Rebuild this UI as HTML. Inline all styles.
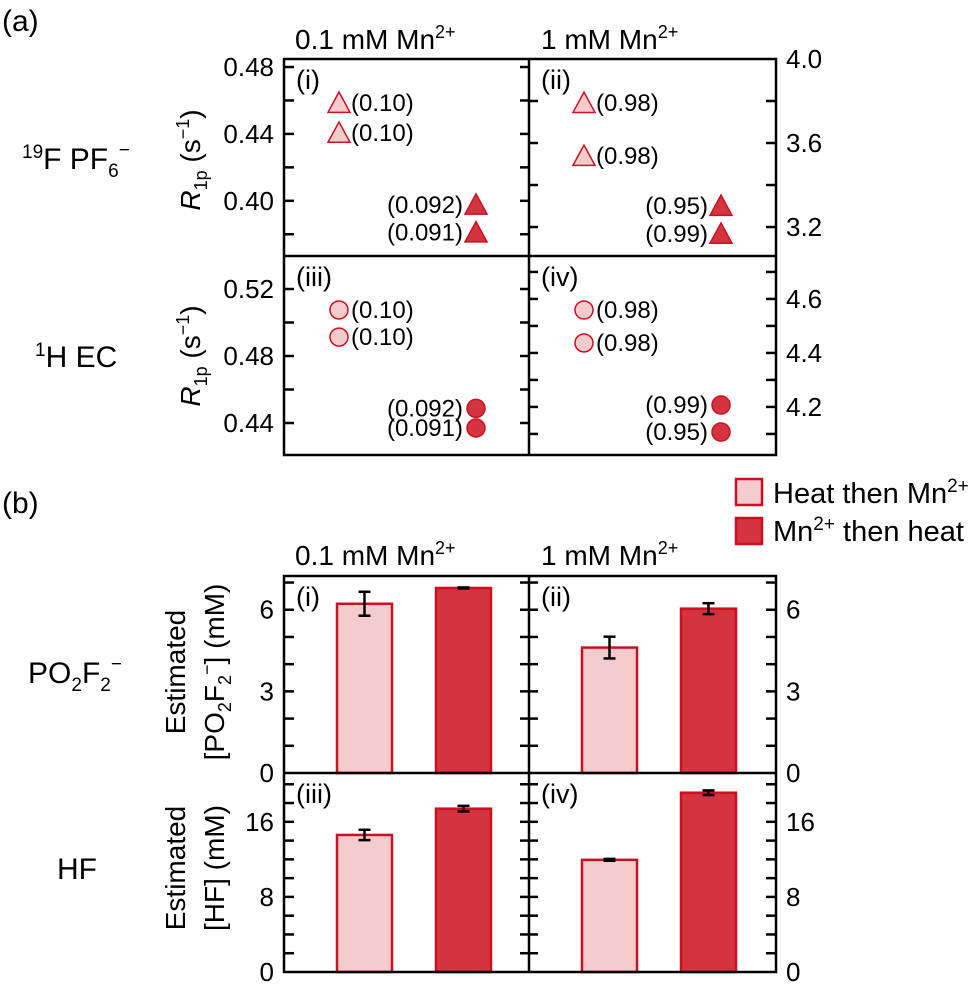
<!DOCTYPE html>
<html><head><meta charset="utf-8"><style>
body{margin:0;background:#fff;}
svg{display:block;font-family:"Liberation Sans",Arial,sans-serif;}
</style></head><body>
<svg id="fig" width="980" height="986" viewBox="0 0 980 986" xmlns="http://www.w3.org/2000/svg">
<g font-size="28" fill="#000">
<text x="2" y="31" font-size="30">(a)</text>
<text x="2" y="513" font-size="30">(b)</text>
<text x="295" y="49">0.1 mM Mn<tspan dy="-11" font-size="18">2+</tspan></text>
<text x="541" y="49">1 mM Mn<tspan dy="-11" font-size="18">2+</tspan></text>
<text x="295" y="565">0.1 mM Mn<tspan dy="-11" font-size="18">2+</tspan></text>
<text x="541" y="565">1 mM Mn<tspan dy="-11" font-size="18">2+</tspan></text>
<g font-size="30">
<text x="22" y="169"><tspan font-size="19" dy="-11">19</tspan><tspan dy="11">F PF</tspan><tspan font-size="19" dy="8">6</tspan><tspan font-size="19" dy="-21">−</tspan></text>
<text x="35" y="367"><tspan font-size="19" dy="-11">1</tspan><tspan dy="11">H EC</tspan></text>
<text x="28" y="683">PO<tspan font-size="19" dy="8">2</tspan><tspan dy="-8">F</tspan><tspan font-size="19" dy="8">2</tspan><tspan font-size="19" dy="-21">−</tspan></text>
<text x="57" y="879">HF</text>
</g>
<text transform="translate(200,160) rotate(-90)" text-anchor="middle"><tspan font-style="italic">R</tspan><tspan font-size="18" dy="7">1p</tspan><tspan dy="-7"> (s</tspan><tspan font-size="18" dy="-11">−1</tspan><tspan dy="11">)</tspan></text>
<text transform="translate(200,356) rotate(-90)" text-anchor="middle"><tspan font-style="italic">R</tspan><tspan font-size="18" dy="7">1p</tspan><tspan dy="-7"> (s</tspan><tspan font-size="18" dy="-11">−1</tspan><tspan dy="11">)</tspan></text>
<text transform="rotate(-90)" text-anchor="middle"><tspan x="-672" y="185">Estimated</tspan><tspan x="-672" y="224">[PO<tspan font-size="18" dy="7">2</tspan><tspan dy="-7">F</tspan><tspan font-size="18" dy="7">2</tspan><tspan font-size="18" dy="-18">−</tspan><tspan dy="11">] (mM)</tspan></tspan></text>
<text transform="rotate(-90)" text-anchor="middle"><tspan x="-868" y="185">Estimated</tspan><tspan x="-868" y="224">[HF] (mM)</tspan></text>
</g>
<g>
<rect x="736" y="479" width="26" height="26" fill="#f4cccd" stroke="#cc1020" stroke-width="2.5"/>
<text x="773" y="503" font-size="29">Heat then Mn<tspan dy="-11" font-size="19">2+</tspan></text>
<rect x="736" y="518" width="26" height="26" fill="#d3343f" stroke="#cc1020" stroke-width="2.5"/>
<text x="773" y="541" font-size="29">Mn<tspan dy="-11" font-size="19">2+</tspan><tspan dy="11"> then heat</tspan></text>
</g>
<g id="plots"></g>
</svg>
<script>
// ---- Data (a): R1p values ----
const r1pLightPF6_01 = [0.4585, 0.4406];
const r1pDarkPF6_01 = [0.3976, 0.3810];
const r1pLightPF6_1 = [3.79, 3.538];
const r1pDarkPF6_1 = [3.30, 3.167];
const r1pLightEC_01 = [0.5075, 0.4913];
const r1pDarkEC_01 = [0.4487, 0.4370];
const r1pLightEC_1 = [4.559, 4.437];
const r1pDarkEC_1 = [4.207, 4.107];
const lblLightPF6_01 = ["(0.10)", "(0.10)"];
const lblDarkPF6_01 = ["(0.092)", "(0.091)"];
const lblLightPF6_1 = ["(0.98)", "(0.98)"];
const lblDarkPF6_1 = ["(0.95)", "(0.99)"];
const lblLightEC_01 = ["(0.10)", "(0.10)"];
const lblDarkEC_01 = ["(0.092)", "(0.091)"];
const lblLightEC_1 = ["(0.98)", "(0.98)"];
const lblDarkEC_1 = ["(0.99)", "(0.95)"];
// ---- Data (b): bars ----
const barCategories = ["Heat then Mn2+", "Mn2+ then heat"];
const po2f2_01 = [6.22, 6.80];
const po2f2_01Err = [0.44, 0.02];
const po2f2_1 = [4.61, 6.04];
const po2f2_1Err = [0.40, 0.20];
const hf_01 = [14.6, 17.4];
const hf_01Err = [0.55, 0.3];
const hf_1 = [11.95, 19.1];
const hf_1Err = [0.1, 0.25];
// ---- Ticks ----
const ticksPF6_01 = ["0.40", "0.44", "0.48"];
const ticksPF6_1 = ["3.2", "3.6", "4.0"];
const ticksEC_01 = ["0.44", "0.48", "0.52"];
const ticksEC_1 = ["4.2", "4.4", "4.6"];
const ticksPO2F2 = ["0", "3", "6"];
const ticksHF = ["0", "8", "16"];

const NS = "http://www.w3.org/2000/svg";
const root = document.getElementById('plots');
const LIGHT = "#f4cccd", DARK = "#d3343f", EDGE = "#cc1020";
function mk(tag, attrs, parent) {
  const e = document.createElementNS(NS, tag);
  for (const k in attrs) e.setAttribute(k, attrs[k]);
  (parent || root).appendChild(e);
  return e;
}
function scale(d0, d1, p0, p1) { return v => p0 + (v - d0) / (d1 - d0) * (p1 - p0); }

const XL = 284, XM = 529, XR = 776;
const panels = [
  {name:'a-i', x0:XL, x1:XM, y0:59, y1:256, d0:0.367, d1:0.4848, ticks:ticksPF6_01, minor:0.02, side:'left', label:'(i)'},
  {name:'a-ii', x0:XM, x1:XR, y0:59, y1:256, d0:3.062, d1:4.0, ticks:ticksPF6_1, minor:0.2, side:'right', label:'(ii)'},
  {name:'a-iii', x0:XL, x1:XM, y0:256, y1:455, d0:0.4209, d1:0.5397, ticks:ticksEC_01, minor:0.02, side:'left', label:'(iii)'},
  {name:'a-iv', x0:XM, x1:XR, y0:256, y1:455, d0:4.022, d1:4.759, ticks:ticksEC_1, minor:0.1, side:'right', label:'(iv)'},
  {name:'b-i', x0:XL, x1:XM, y0:576, y1:773, d0:0, d1:7.24, ticks:ticksPO2F2, minor:1, side:'left', label:'(i)'},
  {name:'b-ii', x0:XM, x1:XR, y0:576, y1:773, d0:0, d1:7.24, ticks:ticksPO2F2, minor:1, side:'right', label:'(ii)'},
  {name:'b-iii', x0:XL, x1:XM, y0:773, y1:972, d0:0, d1:21.2, ticks:ticksHF, minor:2, side:'left', label:'(iii)'},
  {name:'b-iv', x0:XM, x1:XR, y0:773, y1:972, d0:0, d1:21.2, ticks:ticksHF, minor:2, side:'right', label:'(iv)'}
];
panels.forEach(p => {
  p.y = scale(p.d0, p.d1, p.y1, p.y0);
  const g = mk('g', {});
  
  
  p.g = g;
  const ticksG = mk('g', {stroke:'#000', 'stroke-width':2.5}, g);
  
  
  const start = Math.ceil(p.d0 / p.minor - 1e-6);
  for (let k = start; k * p.minor <= p.d1 + 1e-9; k++) {
    const yy = p.y(k * p.minor);
    if (yy < p.y0 + 2 || yy > p.y1 - 2) continue;
    if (p.side === 'left') {
      mk('line', {x1:p.x0, x2:p.x0 + 10, y1:yy, y2:yy}, ticksG);
      mk('line', {x1:p.x1 - 9, x2:p.x1, y1:yy, y2:yy}, ticksG);
    } else {
      mk('line', {x1:p.x0, x2:p.x0 + 9, y1:yy, y2:yy}, ticksG);
      mk('line', {x1:p.x1 - 10, x2:p.x1, y1:yy, y2:yy}, ticksG);
    }
  }
  p.ticks.forEach(t => {
    const v = parseFloat(t), yy = p.y(v);
    const tx = p.side === 'left' ? p.x0 - 10 : p.x1 + 10;
    const te = mk('text', {x:tx, y:yy + 9, 'font-size':26, 'text-anchor':p.side === 'left' ? 'end' : 'start'}, g);
    
    
    te.textContent = t;
  });
  const lb = mk('text', {x:p.x0 + 12, y:p.y0 + 30, 'font-size':27}, g);
  
  
  lb.textContent = p.label;
});

function tri(cx, cy, fill, parent) {
  const s = 11;
  return mk('polygon', {points:`${cx},${cy - s} ${cx - s},${cy + s * 0.85} ${cx + s},${cy + s * 0.85}`, fill:fill, stroke:EDGE, 'stroke-width':1.5}, parent);
}
function circ(cx, cy, fill, parent) {
  return mk('circle', {cx:cx, cy:cy, r:9, fill:fill, stroke:EDGE, 'stroke-width':1.5}, parent);
}
function scatter(p, vals, labels, light, shape, series) {
  const cx = p.x0 === XL ? (light ? 339 : 476) : (light ? 584 : 721);
  vals.forEach((v, i) => {
    const cy = p.y(v);
    const m = shape === 'tri' ? tri(cx, cy, light ? LIGHT : DARK, p.g) : circ(cx, cy, light ? LIGHT : DARK, p.g);
    
    
    const t = mk('text', {x: light ? cx + 12 : cx - 13, y: cy + 8, 'font-size':24, 'text-anchor': light ? 'start' : 'end'}, p.g);
    
    
    t.textContent = labels[i];
  });
}
scatter(panels[0], r1pLightPF6_01, lblLightPF6_01, true, 'tri', 'heat-then-mn');
scatter(panels[0], r1pDarkPF6_01, lblDarkPF6_01, false, 'tri', 'mn-then-heat');
scatter(panels[1], r1pLightPF6_1, lblLightPF6_1, true, 'tri', 'heat-then-mn');
scatter(panels[1], r1pDarkPF6_1, lblDarkPF6_1, false, 'tri', 'mn-then-heat');
scatter(panels[2], r1pLightEC_01, lblLightEC_01, true, 'circ', 'heat-then-mn');
scatter(panels[2], r1pDarkEC_01, lblDarkEC_01, false, 'circ', 'mn-then-heat');
scatter(panels[3], r1pLightEC_1, lblLightEC_1, true, 'circ', 'heat-then-mn');
scatter(panels[3], r1pDarkEC_1, lblDarkEC_1, false, 'circ', 'mn-then-heat');

function bars(p, vals, errs) {
  const offs = [53, 152];
  vals.forEach((v, i) => {
    const xl = p.x0 + offs[i], w = 55;
    const yt = p.y(v), yb = p.y1;
    const r = mk('rect', {x:xl, y:yt, width:w, height:yb - yt, fill:i === 0 ? LIGHT : DARK, stroke:EDGE, 'stroke-width':2.5}, p.g);
    
    
    const cx = xl + w / 2, ya = p.y(v + errs[i]), yb2 = p.y(v - errs[i]);
    const eg = mk('g', {stroke:'#000', 'stroke-width':2.5}, p.g);
    
    
    mk('line', {x1:cx, x2:cx, y1:ya, y2:yb2}, eg);
    mk('line', {x1:cx - 6, x2:cx + 6, y1:ya, y2:ya}, eg);
    mk('line', {x1:cx - 6, x2:cx + 6, y1:yb2, y2:yb2}, eg);
  });
}
bars(panels[4], po2f2_01, po2f2_01Err);
bars(panels[5], po2f2_1, po2f2_1Err);
bars(panels[6], hf_01, hf_01Err);
bars(panels[7], hf_1, hf_1Err);

[[59,455],[576,972]].forEach((yy, k) => {
  const fg = mk('g', {stroke:'#000', 'stroke-width':2.5, fill:'none'});
  
  
  mk('rect', {x:XL, y:yy[0], width:XR - XL, height:yy[1] - yy[0]}, fg);
  mk('line', {x1:XM, x2:XM, y1:yy[0], y2:yy[1]}, fg);
  const mid = k === 0 ? 256 : 773;
  mk('line', {x1:XL, x2:XR, y1:mid, y2:mid}, fg);
});
</script>
</body></html>
